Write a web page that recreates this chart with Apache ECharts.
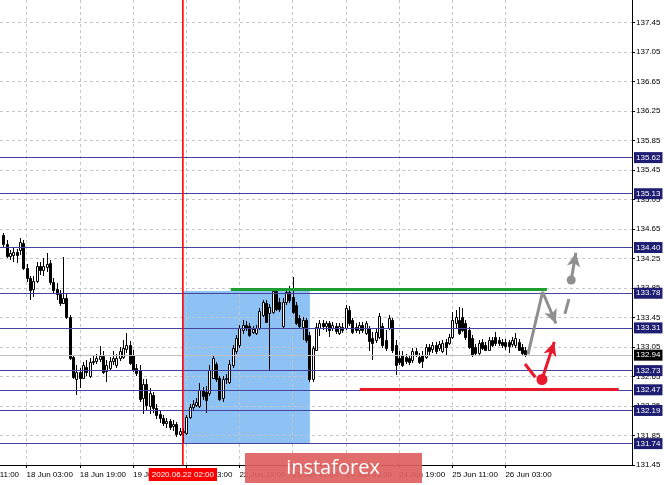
<!DOCTYPE html>
<html><head><meta charset="utf-8">
<script src="https://cdn.jsdelivr.net/npm/echarts@6/dist/echarts.min.js"></script>
<style>html,body{margin:0;padding:0;background:#fff}#c{width:665px;height:485px}</style>
</head><body><div id="c"></div><script>
// ---- data (H1 bars, index 0 = 18 Jun 03:00) ----
const firstBar = -7;
const opens = [
134.57,134.45,134.29,134.30,134.34,134.37,134.46,134.12,133.99,133.84,
133.95,134.15,134.10,134.14,134.19,133.93,133.84,133.77,133.65,133.72,
133.46,132.92,132.61,132.71,132.63,132.78,132.66,132.85,132.86,132.89,
132.93,132.73,132.77,132.86,132.81,132.90,132.92,133.03,133.08,132.94,
132.77,132.74,132.36,132.55,132.25,132.40,132.23,132.14,132.09,132.02,
132.05,131.98,132.00,131.87,131.91,131.89,132.10,132.24,132.27,132.25,
132.47,132.44,132.43,132.63,132.82,132.63,132.36,132.61,132.58,132.80,
132.99,133.08,133.28,133.35,133.34,133.26,133.24,133.31,133.49,133.65,
133.51,133.53,133.81,133.66,133.34,133.66,133.80,133.73,133.62,133.45,
133.32,133.42,133.22,132.61,133.01,133.31,133.38,133.34,133.37,133.31,
133.34,133.24,133.32,133.31,133.55,133.42,133.32,133.28,133.35,133.24,
133.31,133.17,133.15,133.19,133.34,133.15,133.31,133.42,133.08,132.90,
132.94,132.92,132.90,132.88,133.00,132.92,132.94,132.92,133.05,133.03,
133.08,133.04,133.00,133.12,133.11,133.19,133.37,133.42,133.46,133.38,
133.28,133.17,133.05,132.97,133.12,133.08,133.01,133.15,133.19,133.15,
133.12,133.12,133.12,133.09,133.08,133.12,133.05,133.01];
const closes = [
134.45,134.29,134.33,134.34,134.30,134.48,134.12,133.99,133.83,133.95,
134.15,134.10,134.15,134.18,133.93,133.83,133.77,133.65,133.72,133.46,
132.90,132.65,132.71,132.63,132.80,132.71,132.85,132.86,132.90,132.93,
132.71,132.80,132.86,132.90,132.90,132.99,133.04,133.08,132.84,132.74,
132.70,132.35,132.55,132.27,132.42,132.23,132.13,132.09,132.02,132.05,
131.97,132.01,131.87,131.91,131.90,132.10,132.24,132.28,132.31,132.47,
132.39,132.33,132.74,132.90,132.61,132.35,132.61,132.63,132.82,133.04,
133.17,133.31,133.35,133.31,133.22,133.30,133.31,133.54,133.66,133.39,
133.59,133.81,133.57,133.56,133.66,133.80,133.69,133.53,133.38,133.34,
133.42,133.15,132.61,133.04,133.32,133.38,133.34,133.37,133.28,133.35,
133.27,133.34,133.28,133.58,133.37,133.26,133.28,133.35,133.28,133.37,
133.13,133.11,133.26,133.47,133.08,133.04,133.45,133.01,132.80,132.85,
132.81,132.86,132.85,133.00,132.96,132.85,132.86,133.05,132.99,133.08,
133.00,133.09,133.11,133.05,133.19,133.42,133.46,133.24,133.28,133.19,
133.05,132.94,132.97,133.11,133.04,133.01,133.15,133.08,133.11,133.11,
133.08,133.07,133.07,133.15,133.17,133.01,132.97,132.94];
const highs = [
134.60,134.50,134.37,134.39,134.38,134.53,134.50,134.17,134.01,134.01,
134.21,134.21,134.26,134.33,134.23,133.99,133.92,133.83,134.27,133.77,
133.49,132.94,132.80,132.77,132.85,132.88,132.90,132.93,132.96,133.07,
132.99,132.88,132.92,132.99,132.96,133.05,133.15,133.24,133.13,133.01,
132.82,132.80,132.61,132.61,132.50,132.44,132.28,132.20,132.13,132.09,
132.08,132.06,132.04,131.95,131.95,132.13,132.28,132.33,132.36,132.56,
132.51,132.52,132.81,132.93,132.85,132.66,132.66,132.69,132.88,133.08,
133.22,133.35,133.42,133.41,133.38,133.34,133.35,133.58,133.69,133.69,
133.64,133.85,133.84,133.72,133.72,133.84,133.88,134.00,133.66,133.49,
133.46,133.45,133.26,133.07,133.37,133.42,133.42,133.41,133.41,133.39,
133.38,133.38,133.37,133.62,133.61,133.45,133.38,133.39,133.39,133.41,
133.34,133.26,133.30,133.51,133.38,133.28,133.49,133.45,133.15,132.99,
132.99,132.96,132.94,133.04,133.04,132.97,132.99,133.09,133.09,133.12,
133.12,133.13,133.15,133.16,133.23,133.53,133.55,133.59,133.58,133.42,
133.32,133.22,133.09,133.15,133.16,133.12,133.19,133.19,133.26,133.19,
133.16,133.16,133.15,133.19,133.24,133.16,133.09,133.05];
const lows = [
134.41,134.26,134.23,134.21,134.19,134.30,134.10,133.93,133.69,133.73,
133.92,134.03,134.02,134.07,133.89,133.77,133.69,133.61,133.64,133.43,
132.88,132.61,132.40,132.50,132.61,132.66,132.63,132.81,132.82,132.85,
132.69,132.58,132.74,132.81,132.77,132.86,132.89,132.97,132.80,132.71,
132.66,132.31,132.14,132.20,132.14,132.16,132.08,132.02,131.98,131.95,
131.93,131.91,131.83,131.85,131.75,131.86,132.08,132.20,132.24,132.23,
132.33,132.16,132.39,132.61,132.58,132.32,132.31,132.55,132.55,132.76,
132.96,133.04,133.23,133.27,133.19,133.23,133.22,133.28,133.46,133.37,
132.74,133.50,133.54,133.53,133.31,133.62,133.65,133.50,133.35,133.31,
133.15,133.11,132.58,132.57,132.99,133.20,133.28,133.26,133.19,133.27,
133.23,133.22,133.24,133.28,133.34,133.23,133.24,133.23,133.24,133.22,
132.99,132.88,133.11,133.16,133.04,133.00,133.28,132.97,132.67,132.80,
132.78,132.82,132.81,132.84,132.92,132.82,132.77,132.89,132.94,132.97,
132.96,132.99,132.97,132.94,133.08,133.16,133.30,133.22,133.26,133.15,
133.03,132.92,132.93,132.94,133.01,132.99,132.99,133.05,133.07,133.07,
133.04,133.01,132.97,133.05,133.04,132.99,132.94,132.92];

const xTickIdx = [0, 16, 32, 48, 64, 80, 96, 112, 128, 144];
const xTickLabels = ['18 Jun 03:00','18 Jun 19:00','19 Jun 11:00','22 Jun 03:00',
  '22 Jun 19:00','23 Jun 11:00','24 Jun 03:00','24 Jun 19:00','25 Jun 11:00','26 Jun 03:00'];
const prevTickIdx = -16;
const prevTickLabel = '17 Jun 11:00';
const levels = [135.62, 135.13, 134.40, 133.78, 133.31, 132.73, 132.47, 132.19, 131.74];
const lastPrice = 132.94;
const markerBar = 47;
const markerLabel = '2020.06.22 02:00';
const zoneX = [47, 85.2];
const zoneY = [133.81, 131.74];
const greenLine = [[61.4, 133.83], [156.5, 133.83]];
const redLine = [[100.2, 132.48], [178.1, 132.48]];
const grayPath = [[150.8, 132.95], [155.2, 133.80], [159.2, 133.37]];
const grayDash = [[161.9, 133.50], [163.1, 133.70]];
const grayDot = [163.8, 133.96];
const grayTip = [165.2, 134.33];
const redDash = [[149.9, 132.82], [153.0, 132.64]];
const redDot = [155.0, 132.61];
const redTip = [158.7, 133.12];

// ---- chart ----
const FONT = 'Liberation Sans';
const Y_MIN = 131.45, Y_MAX = 137.758;
const candleData = opens.map((o, k) => [firstBar + k, o, closes[k], lows[k], highs[k]]);
const chart = echarts.init(document.getElementById('c'), null, {renderer: 'canvas'});
const gridLine = {show: true, lineStyle: {color: '#c6c6c6', type: [3, 3], width: 1}};
const GRAY = '#8f8f8f', RED = '#e8192c', GREEN = '#1e9e32', NAVY = '#1d1d72', LVL = '#4343a0';

const seg = (a, b, color, endSym) => [
  {coord: a, symbol: 'none', lineStyle: {color: color, width: 3, type: 'solid'}},
  {coord: b, symbol: endSym || 'none', symbolSize: [10, 14], lineStyle: {color: color, width: 3, type: 'solid'}, itemStyle: {color: color}}
];
const boxLabel = (txt, bg) => ({show: true, position: 'end', distance: 2, formatter: txt, color: '#fff',
  backgroundColor: bg, padding: [2, 2, 1, 2], fontFamily: FONT, fontSize: 8});

function logoGraphic(extra) {
  return [
    {type: 'rect', z: 100, shape: {x: 245, y: 453, width: 177, height: 30}, style: {fill: 'rgba(222,96,96,0.92)'}},
    {type: 'text', z: 101, x: 333, y: 468, style: {text: 'instaforex', fill: '#fff', font: '20px "Open Sans"', align: 'center', verticalAlign: 'middle'}}
  ].concat(extra || []);
}

chart.setOption({
  animation: false,
  backgroundColor: '#ffffff',
  textStyle: {fontFamily: FONT},
  grid: {left: 0, right: 33, top: 0, bottom: 20},
  xAxis: {
    type: 'value', min: -8, max: 182.08, interval: 8, z: 2,
    axisLine: {show: true, onZero: false, lineStyle: {color: '#000', width: 1}},
    axisTick: {show: true, length: 3, customValues: xTickIdx, lineStyle: {color: '#000'}},
    axisLabel: {
      customValues: xTickIdx,
      formatter: v => { const k = xTickIdx.indexOf(v); return k >= 0 ? xTickLabels[k] : ''; },
      align: 'left', fontFamily: FONT, fontSize: 8, color: '#000', margin: 6
    },
    splitLine: gridLine
  },
  yAxis: {
    type: 'value', position: 'right', min: Y_MIN, max: Y_MAX, interval: 0.4, z: 2,
    axisLine: {show: true, onZero: false, lineStyle: {color: '#000', width: 1}},
    axisTick: {show: true, length: 3, lineStyle: {color: '#000'}},
    axisLabel: {showMaxLabel: false, formatter: v => v.toFixed(2), fontFamily: FONT, fontSize: 8, color: '#000', margin: 4},
    splitLine: Object.assign({showMaxLine: false}, gridLine)
  },
  series: [
    {
      type: 'line', data: [], z: 1, silent: true,
      markArea: {silent: true, itemStyle: {color: '#8ec2f5', opacity: 1}, label: {show: false},
        data: [[{coord: [zoneX[0], zoneY[0]]}, {coord: [zoneX[1], zoneY[1]]}]]}
    },
    {
      type: 'line', data: [], z: 3, silent: true,
      markLine: {
        silent: true, symbol: ['none', 'none'], animation: false,
        data: levels.map(v => ({
          yAxis: v, lineStyle: {color: LVL, width: 1, type: 'solid'}, label: boxLabel(v.toFixed(2), NAVY)
        })).concat([
          {yAxis: lastPrice, lineStyle: {color: '#c0c0c0', width: 1, type: 'solid'}, label: boxLabel(lastPrice.toFixed(2), '#000')}
        ])
      }
    },
    {
      type: 'custom', z: 4, clip: true, silent: true,
      encode: {x: 0, y: [1, 2, 3, 4]},
      data: candleData,
      renderItem: function (params, api) {
        const x = api.value(0), o = api.value(1), c = api.value(2), lo = api.value(3), hi = api.value(4);
        const pO = api.coord([x, o]), pC = api.coord([x, c]), pH = api.coord([x, hi]), pL = api.coord([x, lo]);
        const cx = Math.round(pO[0]) + 0.5;
        const top = Math.round(Math.min(pO[1], pC[1])) + 0.5;
        const bot = Math.round(Math.max(pO[1], pC[1])) + 0.5;
        const bull = c >= o;
        return {type: 'group', children: [
          {type: 'line', shape: {x1: cx, y1: Math.round(pH[1]), x2: cx, y2: Math.round(pL[1])}, style: {stroke: '#000', lineWidth: 1}},
          {type: 'rect', shape: {x: cx - 1, y: top, width: 2, height: Math.max(0, bot - top)},
            style: {fill: bull ? '#fff' : '#000', stroke: '#000', lineWidth: 1}}
        ]};
      }
    },
    {
      // vertical time marker
      type: 'line', z: 6, silent: true, symbol: 'none', color: '#ff0000',
      lineStyle: {color: '#ff0000', width: 1.6},
      data: [[markerBar, Y_MIN], [markerBar, Y_MAX]],
      markLine: {
        silent: true, symbol: ['none', 'none'], animation: false,
        lineStyle: {color: 'rgba(255,0,0,0)', width: 1, type: 'solid'},
        data: [{xAxis: markerBar, lineStyle: {color: 'rgba(255,0,0,0)'},
          label: {show: true, position: 'start', distance: 3, formatter: markerLabel, color: '#fff',
            backgroundColor: '#ff0000', padding: [3, 3, 2, 3], fontFamily: FONT, fontSize: 8}}]
      }
    },
    {
      type: 'line', data: [], z: 5, silent: true,
      markLine: {
        silent: true, symbol: ['none', 'none'], animation: false, label: {show: false},
        data: [
          seg(greenLine[0], greenLine[1], GREEN),
          seg(redLine[0], redLine[1], RED),
          seg(grayPath[0], grayPath[1], GRAY),
          seg(grayPath[1], grayPath[2], GRAY, 'arrow'),
          seg(grayDash[0], grayDash[1], GRAY),
          seg(grayDot, grayTip, GRAY, 'arrow'),
          seg(redDash[0], redDash[1], RED),
          seg(redDot, redTip, RED, 'arrow')
        ]
      },
      markPoint: {
        silent: true, label: {show: false}, animation: false,
        data: [
          {coord: grayDot, symbol: 'circle', symbolSize: 9, itemStyle: {color: GRAY}},
          {coord: redDot, symbol: 'circle', symbolSize: 11, itemStyle: {color: RED}}
        ]
      }
    }
  ],
  graphic: logoGraphic()
});

// label of the tick just left of the visible range (clipped by the page edge)
const prevX = chart.convertToPixel({xAxisIndex: 0}, prevTickIdx);
const axisY = chart.convertToPixel({yAxisIndex: 0}, Y_MIN);
chart.setOption({graphic: logoGraphic([
  {type: 'text', z: 1, x: prevX, y: axisY + 6, style: {text: prevTickLabel, fill: '#000', font: '8px "Liberation Sans"', align: 'left', verticalAlign: 'top'}}
])});
</script></body></html>
